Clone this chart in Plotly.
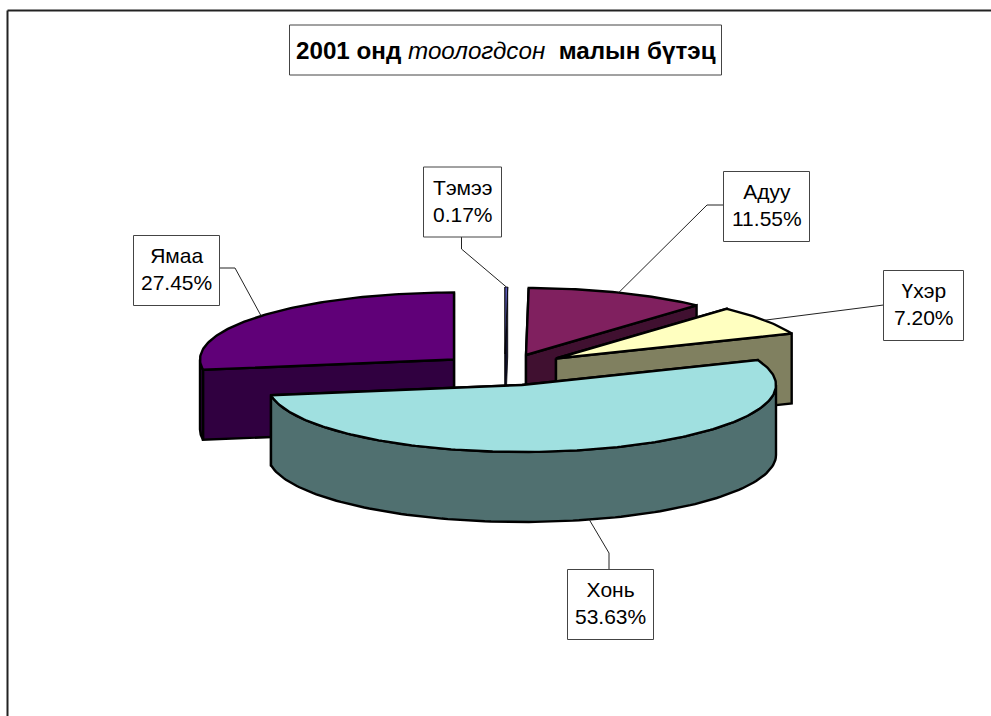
import math
import plotly.graph_objects as go

categories = ["Тэмээ", "Адуу", "Үхэр", "Хонь", "Ямаа"]
values = [0.17, 11.55, 7.20, 53.63, 27.45]
top_colors = ["#5a5ab8", "#80205f", "#ffffc0", "#a0e0e0", "#600078"]
side_colors = ["#10102a", "#401030", "#808060", "#507070", "#300040"]
outline_widths = [0.8, 2.4, 2.4, 2.4, 2.4]

# drawing geometry (screen pixels of the 991x716 page)
RX, RY, DEPTH = 254, 67, 70
apex = {"Тэмээ": (505, 354), "Адуу": (526, 355), "Үхэр": (556, 358.5),
        "Хонь": (522, 385), "Ямаа": (454, 359.5)}
boxes = {"Тэмээ": (423.5, 501.5, 167, 237), "Адуу": (723.5, 809.5, 171.5, 241.5),
         "Үхэр": (883.5, 963.5, 270.5, 340.5), "Хонь": (567.5, 653.5, 569.5, 639.5),
         "Ямаа": (133.5, 219.5, 235.5, 305.5)}
elbows = {"Тэмээ": [(461.5, 249), (461.5, 237)], "Адуу": [(707, 205), (723.5, 205)],
          "Үхэр": [(883.5, 305)], "Хонь": [(609, 553), (609, 569.5)],
          "Ямаа": [(235, 268), (219.5, 268)]}
draw_order = ["Тэмээ", "Адуу", "Ямаа", "Үхэр", "Хонь"]

total = sum(values)
spans = {}
cum = 0.0
for c, v in zip(categories, values):
    spans[c] = (cum / total * 2 * math.pi, (cum + v) / total * 2 * math.pi)
    cum += v


def rim(c, a, drop=0):
    ax, ay = apex[c]
    return ax + RX * math.sin(a), ay - RY * math.cos(a) + drop


def poly(xs_ys, color, width):
    return go.Scatter(x=[p[0] for p in xs_ys], y=[p[1] for p in xs_ys], mode="lines",
                      fill="toself", fillcolor=color, hoverinfo="skip",
                      line=dict(color="black", width=width), showlegend=False)


fig = go.Figure()
for c in draw_order:
    i = categories.index(c)
    w = outline_widths[i]
    a0, a1 = spans[c]
    ax, ay = apex[c]
    # cut faces, the one further back first
    for a in sorted((a0, a1), key=lambda t: rim(c, t)[1]):
        rx, ry = rim(c, a)
        fig.add_trace(poly([(ax, ay), (rx, ry), (rx, ry + DEPTH), (ax, ay + DEPTH), (ax, ay)],
                           side_colors[i], w))
    # outer wall on the front half of the ellipse
    lo, hi = max(a0, math.pi / 2), min(a1, 3 * math.pi / 2)
    if hi > lo:
        n = 120
        arc = [lo + (hi - lo) * k / n for k in range(n + 1)]
        pts = [rim(c, a) for a in arc] + [rim(c, a, DEPTH) for a in reversed(arc)]
        fig.add_trace(poly(pts + [pts[0]], side_colors[i], w))
    # top surface
    n = max(4, int((a1 - a0) * 60))
    arc = [a0 + (a1 - a0) * k / n for k in range(n + 1)]
    fig.add_trace(poly([(ax, ay)] + [rim(c, a) for a in arc] + [(ax, ay)], top_colors[i], w))

# leader lines from each slice's rim midpoint to its label box
for c in categories:
    a0, a1 = spans[c]
    mid = (a0 + a1) / 2
    drop = DEPTH if math.pi / 2 < mid < 3 * math.pi / 2 else 0
    pts = [rim(c, mid, drop)] + elbows[c]
    fig.add_trace(go.Scatter(x=[p[0] for p in pts], y=[p[1] for p in pts], mode="lines",
                             line=dict(color="#222222", width=1), hoverinfo="skip",
                             showlegend=False))

annotations = []
shapes = [
    dict(type="line", xref="x", yref="y", x0=7.5, x1=7.5, y0=10.5, y1=716,
         line=dict(color="#222222", width=2)),
    dict(type="line", xref="x", yref="y", x0=7.5, x1=991, y0=10.5, y1=10.5,
         line=dict(color="#222222", width=2)),
    dict(type="rect", xref="x", yref="y", x0=289.5, x1=721.5, y0=25, y1=75,
         fillcolor="white", line=dict(color="#444444", width=1)),
]
annotations.append(dict(x=505.5, y=50, xref="x", yref="y", showarrow=False,
                        text="<b>2001 онд </b><i>тоологдсон </i><b> малын бүтэц</b>",
                        font=dict(family="Liberation Sans", size=24.2, color="black")))
for c, v in zip(categories, values):
    x0, x1, y0, y1 = boxes[c]
    shapes.append(dict(type="rect", xref="x", yref="y", x0=x0, x1=x1, y0=y0, y1=y1,
                       fillcolor="white", line=dict(color="#444444", width=1)))
    annotations.append(dict(x=(x0 + x1) / 2, y=(y0 + y1) / 2 - 1.5, xref="x", yref="y",
                            showarrow=False, align="center",
                            text=f"{c}<br>{v:.2f}%",
                            font=dict(family="Liberation Sans", size=21, color="black")))

fig.update_layout(
    width=991, height=716, margin=dict(l=0, r=0, t=0, b=0),
    paper_bgcolor="white", plot_bgcolor="white", showlegend=False,
    xaxis=dict(range=[0, 991], visible=False, fixedrange=True),
    yaxis=dict(range=[716, 0], visible=False, fixedrange=True),
    shapes=shapes, annotations=annotations,
)
fig.write_html("out.html", config={"displayModeBar": False},
               post_script="document.body.style.margin='0';document.documentElement.style.overflow='hidden';")
